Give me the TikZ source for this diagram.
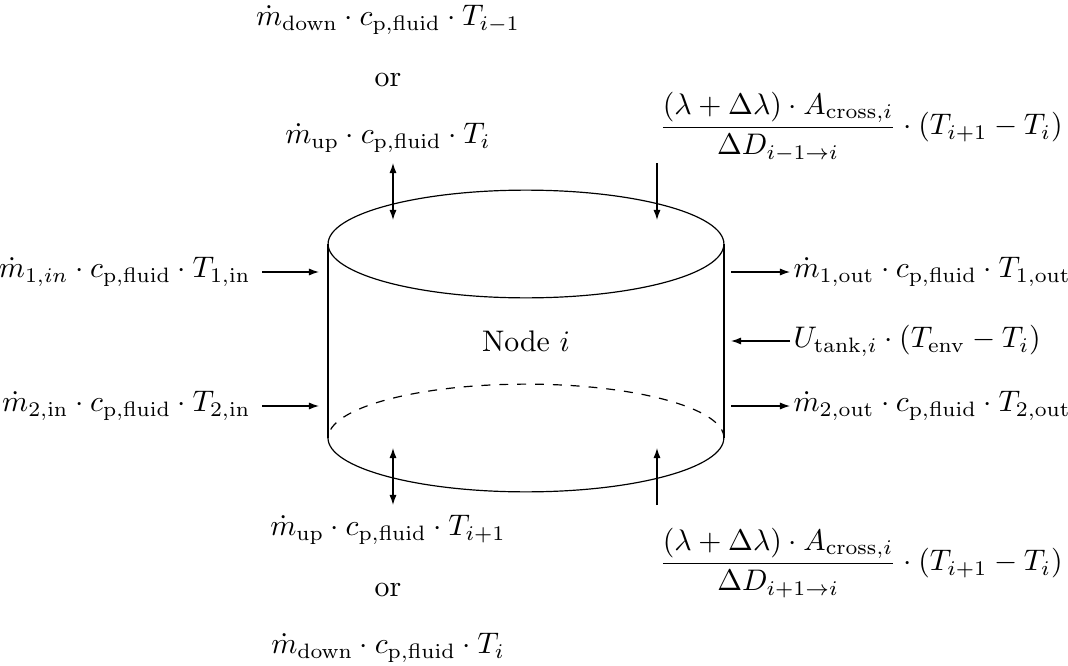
\documentclass[tikz,border=0pt]{standalone}
\usepackage{amsmath}
\usetikzlibrary{arrows.meta}
\begin{document}
\begin{tikzpicture}[x=0.336pt,y=-0.336pt,
  flow/.style={-{Latex[length=3.4pt,width=2.4pt]},line width=0.4pt},
  dflow/.style={{Latex[length=3.4pt,width=2.4pt]}-{Latex[length=3.4pt,width=2.4pt]},line width=0.4pt},
  lbl/.style={inner sep=0pt}]
\useasboundingbox (0,0) rectangle (1068,666);
% cylinder
\draw (526,244) ellipse [x radius=66.5pt, y radius=18.1pt];
\draw (328,244) -- (328,438);
\draw (724,244) -- (724,438);
\draw (328,438) arc [start angle=180, end angle=360, x radius=66.5pt, y radius=18.1pt];
\draw[dashed] (724,438) arc [start angle=0, end angle=180, x radius=66.5pt, y radius=18.1pt];
\node[lbl] (node) at (526,341) {Node $i$};
% top
\node[lbl] (t1) at (388,20) {$\dot m_{\mathrm{down}}\cdot c_{\mathrm{p,fluid}}\cdot T_{i-1}$};
\node[lbl] (t2) at (388,80) {or};
\node[lbl] (t3) at (388,138) {$\dot m_{\mathrm{up}}\cdot c_{\mathrm{p,fluid}}\cdot T_{i}$};
\coordinate (ta1) at (393,163);
\coordinate (ta2) at (393,220);
\draw[dflow] (ta1) -- (ta2);
\node[lbl] (tr) at (861,127) {$\dfrac{(\lambda+\Delta\lambda)\cdot A_{\mathrm{cross},i}}{\Delta D_{i-1\to i}}\cdot(T_{i+1}-T_i)$};
\coordinate (tb1) at (657,163);
\coordinate (tb2) at (657,220);
\draw[flow] (tb1) -- (tb2);
% left
\node[lbl,anchor=east] (l1) at (251,272) {$\dot m_{1,in}\cdot c_{\mathrm{p,fluid}}\cdot T_{1,\mathrm{in}}$};
\node[lbl,anchor=east] (l2) at (251,406) {$\dot m_{2,\mathrm{in}}\cdot c_{\mathrm{p,fluid}}\cdot T_{2,\mathrm{in}}$};
\coordinate (la1) at (319,272);
\coordinate (la2) at (319,406);
\draw[flow] ([xshift=3.7pt]l1.east) -- (la1);
\draw[flow] ([xshift=3.7pt]l2.east) -- (la2);
% right
\node[lbl,anchor=west] (r1) at (793,272) {$\dot m_{1,\mathrm{out}}\cdot c_{\mathrm{p,fluid}}\cdot T_{1,\mathrm{out}}$};
\node[lbl,anchor=west] (r2) at (793,341) {$U_{\mathrm{tank},i}\cdot(T_{\mathrm{env}}-T_i)$};
\node[lbl,anchor=west] (r3) at (793,406) {$\dot m_{2,\mathrm{out}}\cdot c_{\mathrm{p,fluid}}\cdot T_{2,\mathrm{out}}$};
\coordinate (ra1) at (731,272);
\coordinate (ra2) at (731,341);
\coordinate (ra3) at (731,406);
\draw[flow] (ra1) -- ([xshift=-1pt]r1.west);
\draw[flow] ([xshift=-1pt]r2.west) -- (ra2);
\draw[flow] (ra3) -- ([xshift=-1pt]r3.west);
% bottom
\coordinate (ba1) at (393,448);
\coordinate (ba2) at (393,505);
\draw[dflow] (ba1) -- (ba2);
\coordinate (bb1) at (657,505);
\coordinate (bb2) at (657,448);
\draw[flow] (bb1) -- (bb2);
\node[lbl] (b1) at (388,530) {$\dot m_{\mathrm{up}}\cdot c_{\mathrm{p,fluid}}\cdot T_{i+1}$};
\node[lbl] (b2) at (388,590) {or};
\node[lbl] (b3) at (388,648) {$\dot m_{\mathrm{down}}\cdot c_{\mathrm{p,fluid}}\cdot T_{i}$};
\node[lbl] (br) at (861,563) {$\dfrac{(\lambda+\Delta\lambda)\cdot A_{\mathrm{cross},i}}{\Delta D_{i+1\to i}}\cdot(T_{i+1}-T_i)$};
\end{tikzpicture}
\end{document}
